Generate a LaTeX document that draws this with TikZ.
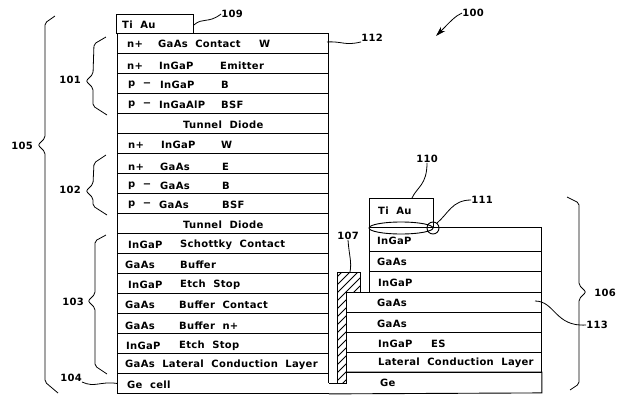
\documentclass[tikz,border=0pt]{standalone}
\usepackage{fontspec}
\setmainfont{DejaVu Sans}[LetterSpace=3,WordSpace=2]
\usetikzlibrary{arrows.meta}
\tikzset{
	layer/.style={draw,line width=.9pt,anchor=north west,inner sep=0pt,minimum height=20pt},
	lefty/.style={layer,minimum width=211pt},
	txt/.style={anchor=west,inner sep=0pt,font=\fontsize{10}{11}\selectfont\bfseries},
	num/.style={inner sep=0pt,font=\fontsize{10}{11}\selectfont\bfseries},
	lead/.style={line width=.8pt},
	brace/.style={line width=.8pt,rounded corners=2pt}
}
\begin{document}
\begin{tikzpicture}[x=1pt,y=-1pt]
	\useasboundingbox (0,0) rectangle (619,394);
	% left stack
	\foreach \i/\y in {1/33,2/53,3/73,4/93,5/113,6/133,7/153,8/173,9/193,10/213,11/233,12/253,13/273,14/293,15/313,16/333,17/353}
		\node[lefty] (lay\i) at (117,\y) {};
	\node[lefty,draw=none] (lay18) at (117,373) {};
	\draw[line width=.9pt] (lay18.east |- 0,383) -- (lay18.north east) -- (lay18.north west) -- (lay18.south west) -- (lay18.south east);
	\node[layer,minimum width=77pt,minimum height=19pt] (tiauA) at (116,14) {};
	\node[txt] (tA) at (122,25) {Ti Au};
	% left texts
	\node[txt] (a1) at (127,44) {n+}; \node[txt] (b1) at (158,44) {GaAs Contact}; \node[txt] (c1) at (259,44) {W};
	\node[txt] (a2) at (127,66) {n+}; \node[txt] (b2) at (159,66) {InGaP}; \node[txt] (c2) at (220,66) {Emitter};
	\node[txt] (a3) at (128,85) {p −}; \node[txt] (b3) at (160,85) {InGaP}; \node[txt] (c3) at (221,85) {B};
	\node[txt] (a4) at (128,105) {p −}; \node[txt] (b4) at (159,105) {InGaAlP}; \node[txt] (c4) at (221,105) {BSF};
	\node[txt] (b5) at (183,125) {Tunnel Diode};
	\node[txt] (a6) at (128,145) {n+}; \node[txt] (b6) at (161,145) {InGaP}; \node[txt] (c6) at (221,145) {W};
	\node[txt] (a7) at (128,167) {n+}; \node[txt] (b7) at (160,167) {GaAs}; \node[txt] (c7) at (222,167) {E};
	\node[txt] (a8) at (128,186) {p −}; \node[txt] (b8) at (160,186) {GaAs}; \node[txt] (c8) at (222,186) {B};
	\node[txt] (a9) at (128,205) {p −}; \node[txt] (b9) at (159,205) {GaAs}; \node[txt] (c9) at (222,205) {BSF};
	\node[txt] (b10) at (183,225) {Tunnel Diode};
	\node[txt] (a11) at (128,245) {InGaP}; \node[txt] (b11) at (180,245) {Schottky Contact};
	\node[txt] (a12) at (125,265) {GaAs}; \node[txt] (b12) at (180,265) {Buffer};
	\node[txt] (a13) at (128,285) {InGaP}; \node[txt] (b13) at (180,285) {Etch Stop};
	\node[txt] (a14) at (125,305) {GaAs}; \node[txt] (b14) at (179,305) {Buffer Contact};
	\node[txt] (a15) at (125,326) {GaAs}; \node[txt] (b15) at (179,326) {Buffer n+};
	\node[txt] (a16) at (126,346) {InGaP}; \node[txt] (b16) at (179,346) {Etch Stop};
	\node[txt] (a17) at (125,365) {GaAs Lateral Conduction Layer};
	\node[txt] (a18) at (127,385) {Ge cell};
	% right stack
	\node[layer,minimum width=172pt,minimum height=24pt] (rig1) at (369,227) {};
	\node[layer,minimum width=172pt] (rig2) at (369,251) {};
	\node[layer,minimum width=172pt,minimum height=21pt] (rig3) at (369,271) {};
	\foreach \i/\y in {4/292,5/312,6/332,7/352}
		\node[layer,minimum width=195pt] (rig\i) at (346,\y) {};
	\node[layer,minimum width=195pt,draw=none] (rig8) at (346,372) {};
	\draw[line width=.9pt] (rig8.north west) -- (rig8.north east) -- (rig8.south east) -- (lay18.south east);
	\node[layer,minimum width=64pt,minimum height=29pt] (tiauB) at (369,198) {};
	\node[txt] (tB) at (378,211) {Ti Au};
	\node[txt] (r1) at (377,241) {InGaP};
	\node[txt] (r2) at (377,262) {GaAs};
	\node[txt] (r3) at (378,283) {InGaP};
	\node[txt] (r4) at (377,303) {GaAs};
	\node[txt] (r5) at (377,324) {GaAs};
	\node[txt] (r6) at (378,344) {InGaP}; \node[txt] (r6b) at (431,344) {ES};
	\node[txt] (r7) at (378,363) {Lateral Conduction Layer};
	\node[txt] (r8) at (380,383) {Ge};
	% metal strip between stacks
	\fill[white] (337,272) -- (360,272) -- (360,292) -- (346,292) -- (346,383) -- (337,383) -- cycle;
	\begin{scope}
		\clip (337,272) -- (360,272) -- (360,292) -- (346,292) -- (346,383) -- (337,383) -- cycle;
		\foreach \y in {276,284,...,404}
			\draw[line width=.9pt] (330,\y) -- (364,\y-34);
	\end{scope}
	\draw[line width=.9pt] (337,272) -- (360,272) -- (360,292) -- (346,292) -- (346,383) -- (337,383) -- cycle;
	\coordinate (con) at (350,272);
	\draw[line width=.9pt] (329,383) -- (337,383);
	\draw[line width=.9pt] (433,228) circle (6);
	\draw[line width=.9pt] (401,228) ellipse (32 and 6);
	\coordinate (dot) at (437,223);
	\coordinate (mid) at (535,301);
	\coordinate (top) at (412,198);
	\coordinate (arr) at (436,36);
	\coordinate (edge) at (327,42);
	% numbers
	\node[num] (n100) at (473,13) {100};
	\node[num] (n101) at (70,80) {101};
	\node[num] (n102) at (70,190) {102};
	\node[num] (n103) at (73,302) {103};
	\node[num] (n104) at (71,378) {104};
	\node[num] (n105) at (22,146) {105};
	\node[num] (n106) at (605,293) {106};
	\node[num] (n107) at (348,236) {107};
	\node[num] (n109) at (232,14) {109};
	\node[num] (n110) at (427,159) {110};
	\node[num] (n111) at (482,200) {111};
	\node[num] (n112) at (372,38) {112};
	\node[num] (n113) at (597,325) {113};
	% leaders
	\draw[lead] ([yshift=-1pt]tiauA.east) .. controls (203,17) and (208,24) .. (n109.west);
	\draw[lead] (edge) .. controls (342,41) and (345,46) .. (n112.south west);
	\draw[lead] (lay18.west) .. controls (100,381) and (95,388) .. (n104.south east);
	\draw[lead] (n107.south) .. controls (349,255) and (352,262) .. (con);
	\draw[lead] (n110.south) .. controls (427,185) and (417,187) .. (top);
	\draw[lead] (n111.west) .. controls (452,200) and (448,214) .. (dot);
	\draw[lead] (mid) .. controls (555,301) and (555,327) .. (n113.west);
	\draw[lead,-{Stealth[length=10pt,width=6pt]}] (n100.west) .. controls (455,16) and (450,22) .. (arr);
	% braces
	\draw[brace] (106,37) -- (94,44) -- (93,74) -- (86,81) -- (93,88) -- (93,106) -- (107,115);
	\draw[brace] (106,155) -- (94,163) -- (93,184) -- (86,191) -- (93,198) -- (93,206) -- (107,215);
	\draw[brace] (106,235) -- (95,241) -- (95,294) -- (88,301) -- (95,308) -- (95,366) -- (107,374);
	\draw[brace] (55,16) -- (45,23) -- (45,138) -- (38,145) -- (45,152) -- (45,382) -- (58,393);
	\draw[brace] (567,197) -- (579,203) -- (579,285) -- (586,292) -- (579,299) -- (579,384) -- (570,390);
\end{tikzpicture}
\end{document}
